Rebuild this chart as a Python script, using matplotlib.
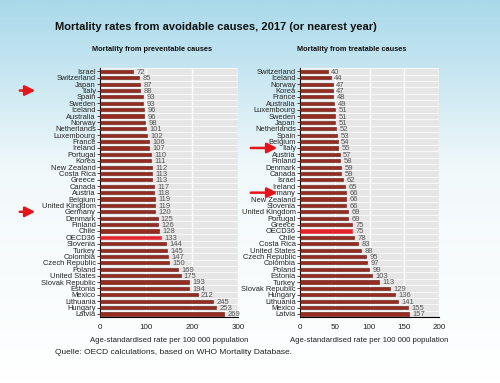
import matplotlib.pyplot as plt
import numpy as np
from matplotlib.colors import LinearSegmentedColormap

plt.rcParams['font.family'] = ['Liberation Sans Narrow', 'Liberation Sans', 'DejaVu Sans']

# Mortality from preventable causes
prev_countries = ['Israel', 'Switzerland', 'Japan', 'Italy', 'Spain', 'Sweden', 'Iceland',
                  'Australia', 'Norway', 'Netherlands', 'Luxembourg', 'France', 'Ireland',
                  'Portugal', 'Korea', 'New Zealand', 'Costa Rica', 'Greece', 'Canada',
                  'Austria', 'Belgium', 'United Kingdom', 'Germany', 'Denmark', 'Finland',
                  'Chile', 'OECD36', 'Slovenia', 'Turkey', 'Colombia', 'Czech Republic',
                  'Poland', 'United States', 'Slovak Republic', 'Estonia', 'Mexico',
                  'Lithuania', 'Hungary', 'Latvia']
prev_values = [72, 85, 87, 88, 93, 93, 96, 96, 98, 101, 102, 106, 107, 110, 111, 112, 113,
               113, 117, 118, 119, 119, 120, 125, 126, 128, 133, 144, 145, 147, 150, 169,
               175, 193, 194, 212, 245, 253, 269]

# Mortality from treatable causes
treat_countries = ['Switzerland', 'Iceland', 'Norway', 'Korea', 'France', 'Australia',
                   'Luxembourg', 'Sweden', 'Japan', 'Netherlands', 'Spain', 'Belgium',
                   'Italy', 'Austria', 'Finland', 'Denmark', 'Canada', 'Israel', 'Ireland',
                   'Germany', 'New Zealand', 'Slovenia', 'United Kingdom', 'Portugal',
                   'Greece', 'OECD36', 'Chile', 'Costa Rica', 'United States',
                   'Czech Republic', 'Colombia', 'Poland', 'Estonia', 'Turkey',
                   'Slovak Republic', 'Hungary', 'Lithuania', 'Mexico', 'Latvia']
treat_values = [40, 44, 47, 47, 48, 49, 51, 51, 51, 52, 53, 54, 55, 57, 58, 59, 59, 62, 65,
                66, 66, 66, 69, 69, 75, 75, 78, 83, 88, 95, 97, 99, 103, 113, 129, 136, 141,
                155, 157]

marked = ['Italy', 'Germany']

fig = plt.figure(figsize=(5, 3.83), dpi=100)

# hintergrund: verlauf hellblau -> weiss
bg = fig.add_axes([0, 0, 1, 1], zorder=-10)
grad = np.linspace(0, 1, 256).reshape(-1, 1)
cmap = LinearSegmentedColormap.from_list('bg', [(0, '#a9d9ea'), (0.45, '#f2f9fb'), (1, '#ffffff')])
bg.imshow(grad, aspect='auto', cmap=cmap, extent=[0, 1, 0, 1], origin='upper')
bg.axis('off')


def panel(rect, countries, values, xmax, step, arrow_x):
    ax = fig.add_axes(rect)
    n = len(countries)
    y = np.arange(n)
    ax.set_facecolor('#e6e6e6')
    colors = ['#e5232b' if c == 'OECD36' else '#962b1f' for c in countries]
    edges = ['#e5232b' if c == 'OECD36' else '#5e1a12' for c in countries]
    ax.barh(y, values, height=0.5, color=colors, edgecolor=edges, linewidth=0.4, zorder=3)
    for yi, v in zip(y, values):
        ax.text(v + xmax * 0.025, yi + 0.15, str(v), fontsize=5.5, color='#555555',
                va='center', ha='left', zorder=4)
    ax.set_ylim(n - 0.5, -0.5)
    ax.set_xlim(0, xmax)
    ax.set_yticks(y)
    ax.set_yticklabels(countries, fontsize=5.4, color='#222222')
    ax.set_yticks(np.arange(n + 1) - 0.5, minor=True)
    ax.set_xticks(np.arange(0, xmax + 1, step))
    ax.tick_params(axis='x', labelsize=5.8, length=0, pad=5, colors='#222222')
    ax.tick_params(axis='y', which='major', length=2, width=0.5, pad=1)
    ax.tick_params(axis='y', which='minor', length=0)
    ax.grid(axis='x', color='white', linewidth=1.0, zorder=1)
    ax.grid(axis='y', which='minor', color='white', linewidth=0.5, zorder=1)
    ax.grid(axis='y', which='major', visible=False)
    ax.set_axisbelow(True)
    for s in ['top', 'right']:
        ax.spines[s].set_visible(False)
    ax.spines['left'].set_linewidth(0.8)
    ax.spines['bottom'].set_linewidth(0.8)
    ax.set_xlabel('Age-standardised rate per 100 000 population', fontsize=5.6,
                  color='#222222', labelpad=4)
    # rote pfeile
    for c in marked:
        yi = countries.index(c)
        ax.annotate('', xy=(arrow_x[1], yi), xytext=(arrow_x[0], yi),
                    xycoords=('figure fraction', 'data'),
                    textcoords=('figure fraction', 'data'),
                    arrowprops=dict(arrowstyle='-|>,head_length=0.6,head_width=0.3',
                                    color='#e5141b', lw=1.8), annotation_clip=False)
    return ax


panel([0.200, 0.172, 0.276, 0.650], prev_countries, prev_values, 300, 100, (0.034, 0.076))
panel([0.600, 0.172, 0.278, 0.650], treat_countries, treat_values, 200, 50, (0.496, 0.560))

fig.text(0.11, 0.922, 'Mortality rates from avoidable causes, 2017 (or nearest year)',
         fontsize=8, fontweight='bold', family=['Liberation Sans', 'DejaVu Sans'], color='#111111')
fig.text(0.304, 0.868, 'Mortality from preventable causes', fontsize=5.3, fontweight='bold',
         ha='center', color='#111111')
fig.text(0.703, 0.868, 'Mortality from treatable causes', fontsize=5.3, fontweight='bold',
         ha='center', color='#111111')
fig.text(0.11, 0.075, 'Quelle: OECD calculations, based on WHO Mortality Database.',
         fontsize=6, color='#222222')

plt.savefig('out.png', dpi=100)
